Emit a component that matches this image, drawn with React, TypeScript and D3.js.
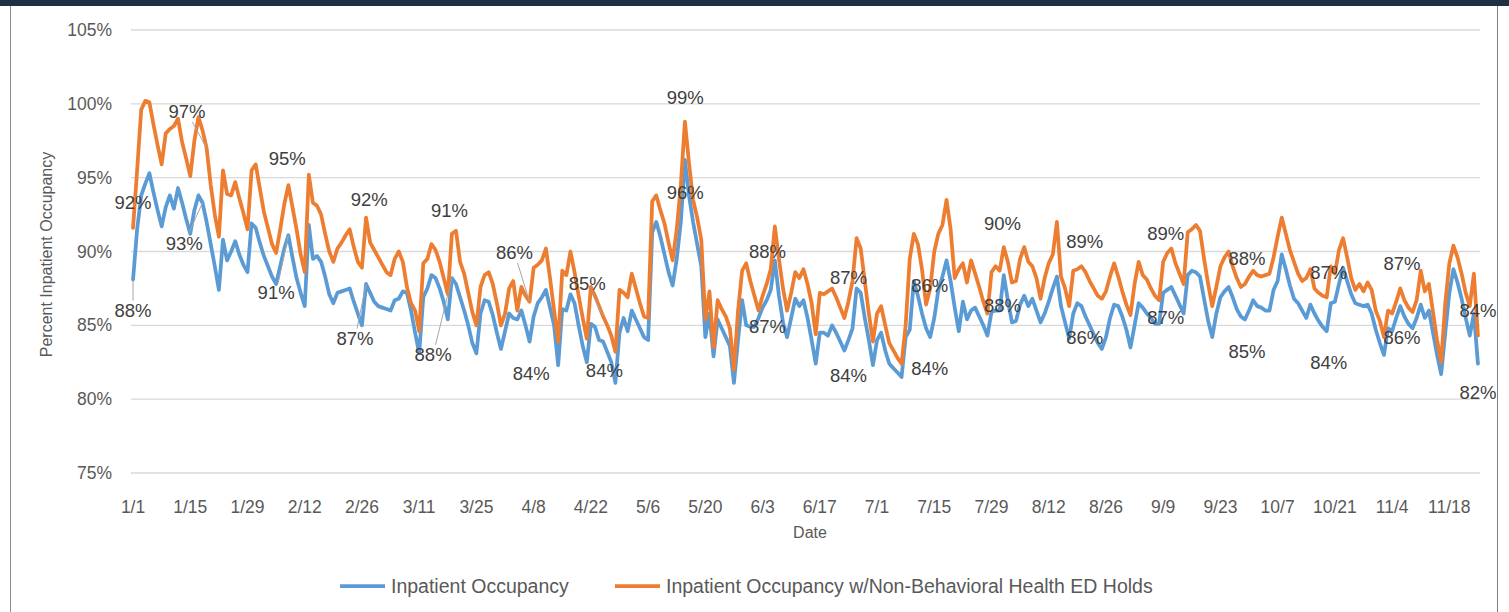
import React from "react";
import * as d3 from "d3";

const W = 1509;
const H = 612;

// ---- data (daily, starting 1/1/2020) ----
const inpatient: number[] = [
  88.1, 91.5, 93.8, 94.6, 95.3, 94.0, 92.8, 91.7, 93.0, 93.8, 92.9, 94.3, 93.3, 92.2, 91.2, 92.8, 93.8, 93.3, 92.0, 90.5,
  89.0, 87.4, 90.8, 89.4, 90.0, 90.7, 89.8, 89.1, 88.6, 91.9, 91.6, 90.6, 89.7, 89.0, 88.3, 87.8, 89.0, 90.2, 91.1, 89.6,
  88.2, 87.2, 86.3, 91.8, 89.5, 89.7, 89.3, 88.3, 87.1, 86.5, 87.2, 87.3, 87.4, 87.5, 86.6, 85.8, 85.0, 87.8, 87.2, 86.6,
  86.3, 86.2, 86.1, 86.0, 86.7, 86.8, 87.3, 87.2, 86.0, 84.5, 83.1, 86.9, 87.5, 88.4, 88.2, 87.5, 86.6, 85.4, 88.2, 87.8,
  86.9, 86.0, 85.0, 83.8, 83.1, 85.8, 86.7, 86.6, 85.7, 84.5, 83.4, 84.6, 85.8, 85.5, 85.4, 86.0, 85.0, 83.9, 85.6, 86.5,
  86.9, 87.4, 86.2, 85.0, 82.3, 86.1, 86.0, 87.1, 86.5, 85.0, 83.6, 82.5, 85.1, 84.9, 84.0, 83.9, 83.2, 82.5, 81.1, 84.5,
  85.5, 84.6, 86.0, 85.4, 84.8, 84.2, 84.0, 91.3, 92.0, 91.0, 89.8, 88.6, 87.7, 89.5, 92.0, 96.2, 93.8, 92.0, 90.5, 89.0,
  84.2, 85.8, 82.9, 85.4, 84.8, 84.2, 83.6, 81.1, 84.0, 86.7, 85.0, 84.9, 84.9, 85.5, 86.2, 86.7, 87.4, 89.4, 87.0, 85.2,
  84.2, 85.5, 86.8, 86.3, 86.7, 85.5, 84.0, 82.4, 84.5, 84.5, 84.3, 85.0, 84.5, 83.9, 83.3, 84.0, 84.8, 87.5, 87.2, 85.5,
  84.0, 82.3, 84.0, 84.5, 83.3, 82.4, 82.1, 81.8, 81.5, 84.2, 84.7, 88.0, 87.0, 85.8, 84.8, 84.2, 85.5, 87.4, 88.3, 89.4,
  88.0, 86.2, 84.6, 86.6, 85.4, 86.0, 86.2, 85.6, 85.0, 84.3, 85.9, 86.0, 86.0, 88.4, 86.7, 85.2, 85.3, 86.4, 87.0, 86.3,
  86.8, 86.0, 85.2, 85.8, 86.6, 87.5, 88.3, 86.3, 85.2, 84.1, 85.8, 86.5, 86.3, 85.6, 85.0, 84.4, 83.8, 83.4, 84.2, 85.5,
  86.4, 86.3, 85.6, 84.7, 83.5, 85.0, 86.5, 86.2, 85.8, 85.5, 85.1, 85.1, 87.2, 87.4, 87.6, 87.0, 86.4, 85.8, 88.4, 88.7,
  88.6, 88.3, 86.8, 85.3, 84.2, 85.8, 86.9, 87.3, 87.6, 86.9, 86.1, 85.6, 85.4, 86.0, 86.7, 86.3, 86.2, 86.0, 86.0, 87.4,
  88.0, 89.8, 88.8, 87.7, 86.8, 86.5, 86.0, 85.5, 86.4, 85.8, 85.3, 84.9, 84.6, 86.5, 86.6, 87.8, 88.9, 88.0, 87.1, 86.5,
  86.4, 86.3, 86.4, 85.8, 84.7, 83.8, 83.0, 84.8, 84.6, 85.5, 86.3, 85.6, 85.1, 84.8, 85.5, 86.4, 85.5, 86.0, 84.5, 83.0,
  81.7, 84.5, 87.2, 88.8, 87.9, 86.8, 85.5, 84.3, 85.8, 82.4,
];

const withHolds: number[] = [
  91.6, 95.5, 99.6, 100.2, 100.1, 98.6, 97.2, 95.9, 98.0, 98.3, 98.5, 99.0, 97.4, 96.3, 95.1, 97.5, 99.1, 98.2, 97.0, 94.5,
  92.5, 91.0, 95.5, 93.9, 93.8, 94.7, 93.6, 92.6, 91.5, 95.5, 95.9, 94.3, 92.7, 91.6, 90.5, 89.9, 91.5, 93.2, 94.5, 93.0,
  91.5, 89.8, 88.6, 95.2, 93.3, 93.1, 92.5, 91.2, 90.0, 89.3, 90.2, 90.6, 91.1, 91.5, 90.3, 89.3, 88.9, 92.3, 90.6, 90.1,
  89.6, 89.1, 88.6, 88.4, 89.5, 90.0, 89.3, 87.6, 86.5, 86.0, 84.6, 89.2, 89.5, 90.5, 90.1, 89.3, 88.2, 87.1, 91.2, 91.4,
  89.3, 88.5, 87.2, 85.9, 85.0, 87.6, 88.4, 88.6, 87.8, 86.5, 85.0, 85.8, 87.5, 88.0, 86.0, 87.6, 87.0, 86.6, 88.9, 89.1,
  89.4, 90.2, 88.2, 86.0, 83.9, 88.7, 88.4, 90.0, 88.6, 87.0, 85.5, 84.1, 87.6, 87.0, 86.3, 85.6, 85.0, 84.3, 83.2, 87.4,
  87.2, 86.9, 88.5, 87.5, 86.5, 85.6, 85.5, 93.4, 93.8, 92.8, 91.9, 90.6, 89.4, 91.5, 94.5, 98.8, 96.0, 93.5, 92.3, 90.8,
  85.4, 87.3, 83.5, 86.7, 86.1, 85.6, 84.8, 82.0, 86.0, 88.7, 89.2, 88.0, 87.0, 86.0, 87.0, 87.8, 88.8, 91.7, 89.5, 87.5,
  86.0, 87.2, 88.6, 88.2, 88.8, 87.8, 86.5, 84.4, 87.2, 87.1, 87.3, 87.5, 86.9, 86.2, 85.5, 86.6, 88.0, 90.9, 90.2, 88.0,
  85.8, 83.9, 85.8, 86.3, 85.0, 83.8, 83.3, 82.8, 82.4, 85.0, 89.5, 91.2, 90.5, 88.8, 86.4, 87.5, 90.0, 91.2, 91.8, 93.5,
  91.5, 88.2, 88.8, 89.2, 87.9, 89.4, 88.5, 87.6, 86.6, 85.8, 88.6, 89.0, 88.7, 90.3, 89.3, 87.9, 88.0, 89.5, 90.3, 89.3,
  89.0, 88.2, 86.8, 88.2, 89.2, 89.8, 92.0, 88.3, 87.5, 86.3, 88.7, 88.8, 89.0, 88.6, 88.0, 87.5, 87.0, 86.8, 87.3, 88.3,
  89.2, 88.3, 87.3, 86.4, 85.7, 87.8, 89.3, 88.4, 88.1, 87.5, 87.0, 86.7, 89.3, 89.9, 90.2, 89.2, 88.5, 87.8, 91.3, 91.5,
  91.8, 91.4, 89.5, 87.8, 86.3, 87.6, 89.0, 89.6, 90.0, 89.0, 88.2, 87.6, 87.8, 88.3, 88.7, 88.4, 88.3, 88.4, 88.5, 89.6,
  91.0, 92.3, 91.2, 90.1, 89.3, 88.5, 88.0, 88.2, 88.8, 87.5, 87.2, 87.0, 86.9, 89.0, 88.5, 90.1, 90.9, 89.6, 88.2, 87.4,
  87.8, 87.3, 87.9, 87.4, 86.0, 85.3, 84.2, 86.0, 85.8, 86.6, 87.5, 86.7, 86.2, 85.9, 86.7, 88.7, 87.3, 87.8, 85.9, 84.0,
  82.5, 86.5, 89.2, 90.4, 89.6, 88.5, 87.2, 86.3, 88.5, 84.3,
];

const tickLabels: string[] = [
  "1/1", "1/15", "1/29", "2/12", "2/26", "3/11", "3/25", "4/8", "4/22", "5/6", "5/20", "6/3",
  "6/17", "7/1", "7/15", "7/29", "8/12", "8/26", "9/9", "9/23", "10/7", "10/21", "11/4", "11/18",
];
const tickStep = 14;
const yTicks: number[] = [75, 80, 85, 90, 95, 100, 105];

const seriesNames: string[] = [
  "Inpatient Occupancy",
  "Inpatient Occupancy w/Non-Behavioral Health ED Holds",
];
const seriesColors: string[] = ["#5B9BD5", "#ED7D31"];

// data labels: label position (day, value), text, optional leader target (day, series)
type Lab = { d: number; v: number; t: string; ld?: number; ls?: number };
const labels: Lab[] = [
  { d: 0, v: 93.3, t: "92%" },
  { d: 0, v: 86.0, t: "88%", ld: 0, ls: 0 },
  { d: 13.2, v: 99.45, t: "97%", ld: 18, ls: 1 },
  { d: 12.5, v: 90.55, t: "93%", ld: 17, ls: 0 },
  { d: 37.7, v: 96.3, t: "95%" },
  { d: 35, v: 87.2, t: "91%", ld: 38, ls: 0 },
  { d: 57.8, v: 93.5, t: "92%" },
  { d: 54.3, v: 84.1, t: "87%", ld: 57, ls: 0 },
  { d: 77.4, v: 92.8, t: "91%" },
  { d: 73.4, v: 83.0, t: "88%", ld: 78, ls: 0 },
  { d: 93.3, v: 89.9, t: "86%", ld: 97, ls: 1 },
  { d: 97.4, v: 81.75, t: "84%" },
  { d: 111.1, v: 87.85, t: "85%", ld: 115, ls: 1 },
  { d: 115.3, v: 81.95, t: "84%" },
  { d: 135.1, v: 100.45, t: "99%" },
  { d: 135.1, v: 94.0, t: "96%" },
  { d: 155.2, v: 90.0, t: "88%" },
  { d: 155.2, v: 84.9, t: "87%" },
  { d: 175, v: 88.25, t: "87%" },
  { d: 175, v: 81.6, t: "84%" },
  { d: 194.9, v: 87.7, t: "86%" },
  { d: 194.9, v: 82.1, t: "84%" },
  { d: 212.7, v: 91.9, t: "90%" },
  { d: 212.7, v: 86.35, t: "88%" },
  { d: 232.8, v: 90.65, t: "89%" },
  { d: 232.8, v: 84.2, t: "86%" },
  { d: 252.6, v: 91.2, t: "89%" },
  { d: 252.6, v: 85.5, t: "87%" },
  { d: 272.5, v: 89.55, t: "88%" },
  { d: 272.5, v: 83.2, t: "85%" },
  { d: 292.5, v: 88.6, t: "87%" },
  { d: 292.5, v: 82.45, t: "84%" },
  { d: 310.4, v: 89.2, t: "87%" },
  { d: 310.4, v: 84.2, t: "86%" },
  { d: 329, v: 86.0, t: "84%" },
  { d: 329, v: 80.45, t: "82%" },
];

const FONT = "'Liberation Sans', Arial, sans-serif";

export default function App() {
  const n = inpatient.length;
  const left = 131;
  const right = 1480;
  const top = 30;
  const bottom = 473;

  const x = d3.scaleLinear().domain([-0.5, n - 0.5]).range([left, right]);
  const y = d3.scaleLinear().domain([75, 105]).range([bottom, top]);

  const line = d3
    .line<number>()
    .x((_, i) => x(i))
    .y((v) => y(v));

  const series = [inpatient, withHolds];

  const leader = (l: Lab) => {
    if (l.ld === undefined || l.ls === undefined) return null;
    const cx = x(l.d);
    const cy = y(l.v);
    const tx = x(l.ld);
    const ty = y(series[l.ls][l.ld]);
    const dx = tx - cx;
    const dy = ty - cy;
    const hw = 19;
    const hh = 10;
    const s = Math.min(
      Math.abs(dx) > 0 ? hw / Math.abs(dx) : Infinity,
      Math.abs(dy) > 0 ? hh / Math.abs(dy) : Infinity
    );
    if (s >= 1) return null;
    return { x1: cx + dx * s, y1: cy + dy * s, x2: tx, y2: ty };
  };

  return (
    <svg
      width={W}
      height={H}
      style={{ position: "absolute", left: 0, top: 0, background: "#fff" }}
      fontFamily={FONT}
    >
      {/* frame */}
      <rect x={0} y={0} width={W} height={6} fill="#1F3042" />
      <line x1={10.5} y1={6} x2={10.5} y2={H} stroke="#8C8C8C" strokeWidth={1} />
      <line x1={1497.5} y1={6} x2={1497.5} y2={H} stroke="#7F7F7F" strokeWidth={1} />

      {/* gridlines */}
      {yTicks.map((t) => (
        <line key={t} x1={left} x2={right} y1={y(t)} y2={y(t)} stroke="#D9D9D9" strokeWidth={1.3} />
      ))}
      {/* y tick labels */}
      {yTicks.map((t) => (
        <text key={"yl" + t} x={112} y={y(t)} dy="0.35em" textAnchor="end" fontSize={17.5} fill="#595959">
          {t}%
        </text>
      ))}
      {/* x tick labels */}
      {tickLabels.map((lab, i) => (
        <text key={"xl" + i} x={x(i * tickStep)} y={507} dy="0.35em" textAnchor="middle" fontSize={17.5} fill="#595959">
          {lab}
        </text>
      ))}

      {/* axis titles */}
      <text
        transform={`translate(46, ${(top + bottom) / 2 + 3}) rotate(-90)`}
        textAnchor="middle"
        dy="0.35em"
        fontSize={16}
        fill="#595959"
      >
        Percent Inpatient Occupancy
      </text>
      <text x={810} y={532} dy="0.35em" textAnchor="middle" fontSize={16} fill="#595959">
        Date
      </text>

      {/* lines */}
      {series.map((s, i) => (
        <path
          key={"s" + i}
          d={line(s) || ""}
          fill="none"
          stroke={seriesColors[i]}
          strokeWidth={3.75}
          strokeLinejoin="round"
          strokeLinecap="round"
        />
      ))}

      {/* leader lines */}
      {labels.map((l, i) => {
        const ll = leader(l);
        return ll ? <line key={"ll" + i} {...ll} stroke="#A6A6A6" strokeWidth={1} /> : null;
      })}
      {/* data labels */}
      {labels.map((l, i) => (
        <text key={"dl" + i} x={x(l.d)} y={y(l.v)} dy="0.35em" textAnchor="middle" fontSize={18.5} fill="#404040">
          {l.t}
        </text>
      ))}

      {/* legend */}
      {seriesNames.map((name, i) => {
        const lx = i === 0 ? 340 : 615;
        return (
          <g key={"lg" + i}>
            <line x1={lx} x2={lx + 45} y1={586} y2={586} stroke={seriesColors[i]} strokeWidth={3.75} />
            <text x={lx + 51} y={586} dy="0.35em" fontSize={19.5} fill="#595959">
              {name}
            </text>
          </g>
        );
      })}
    </svg>
  );
}
